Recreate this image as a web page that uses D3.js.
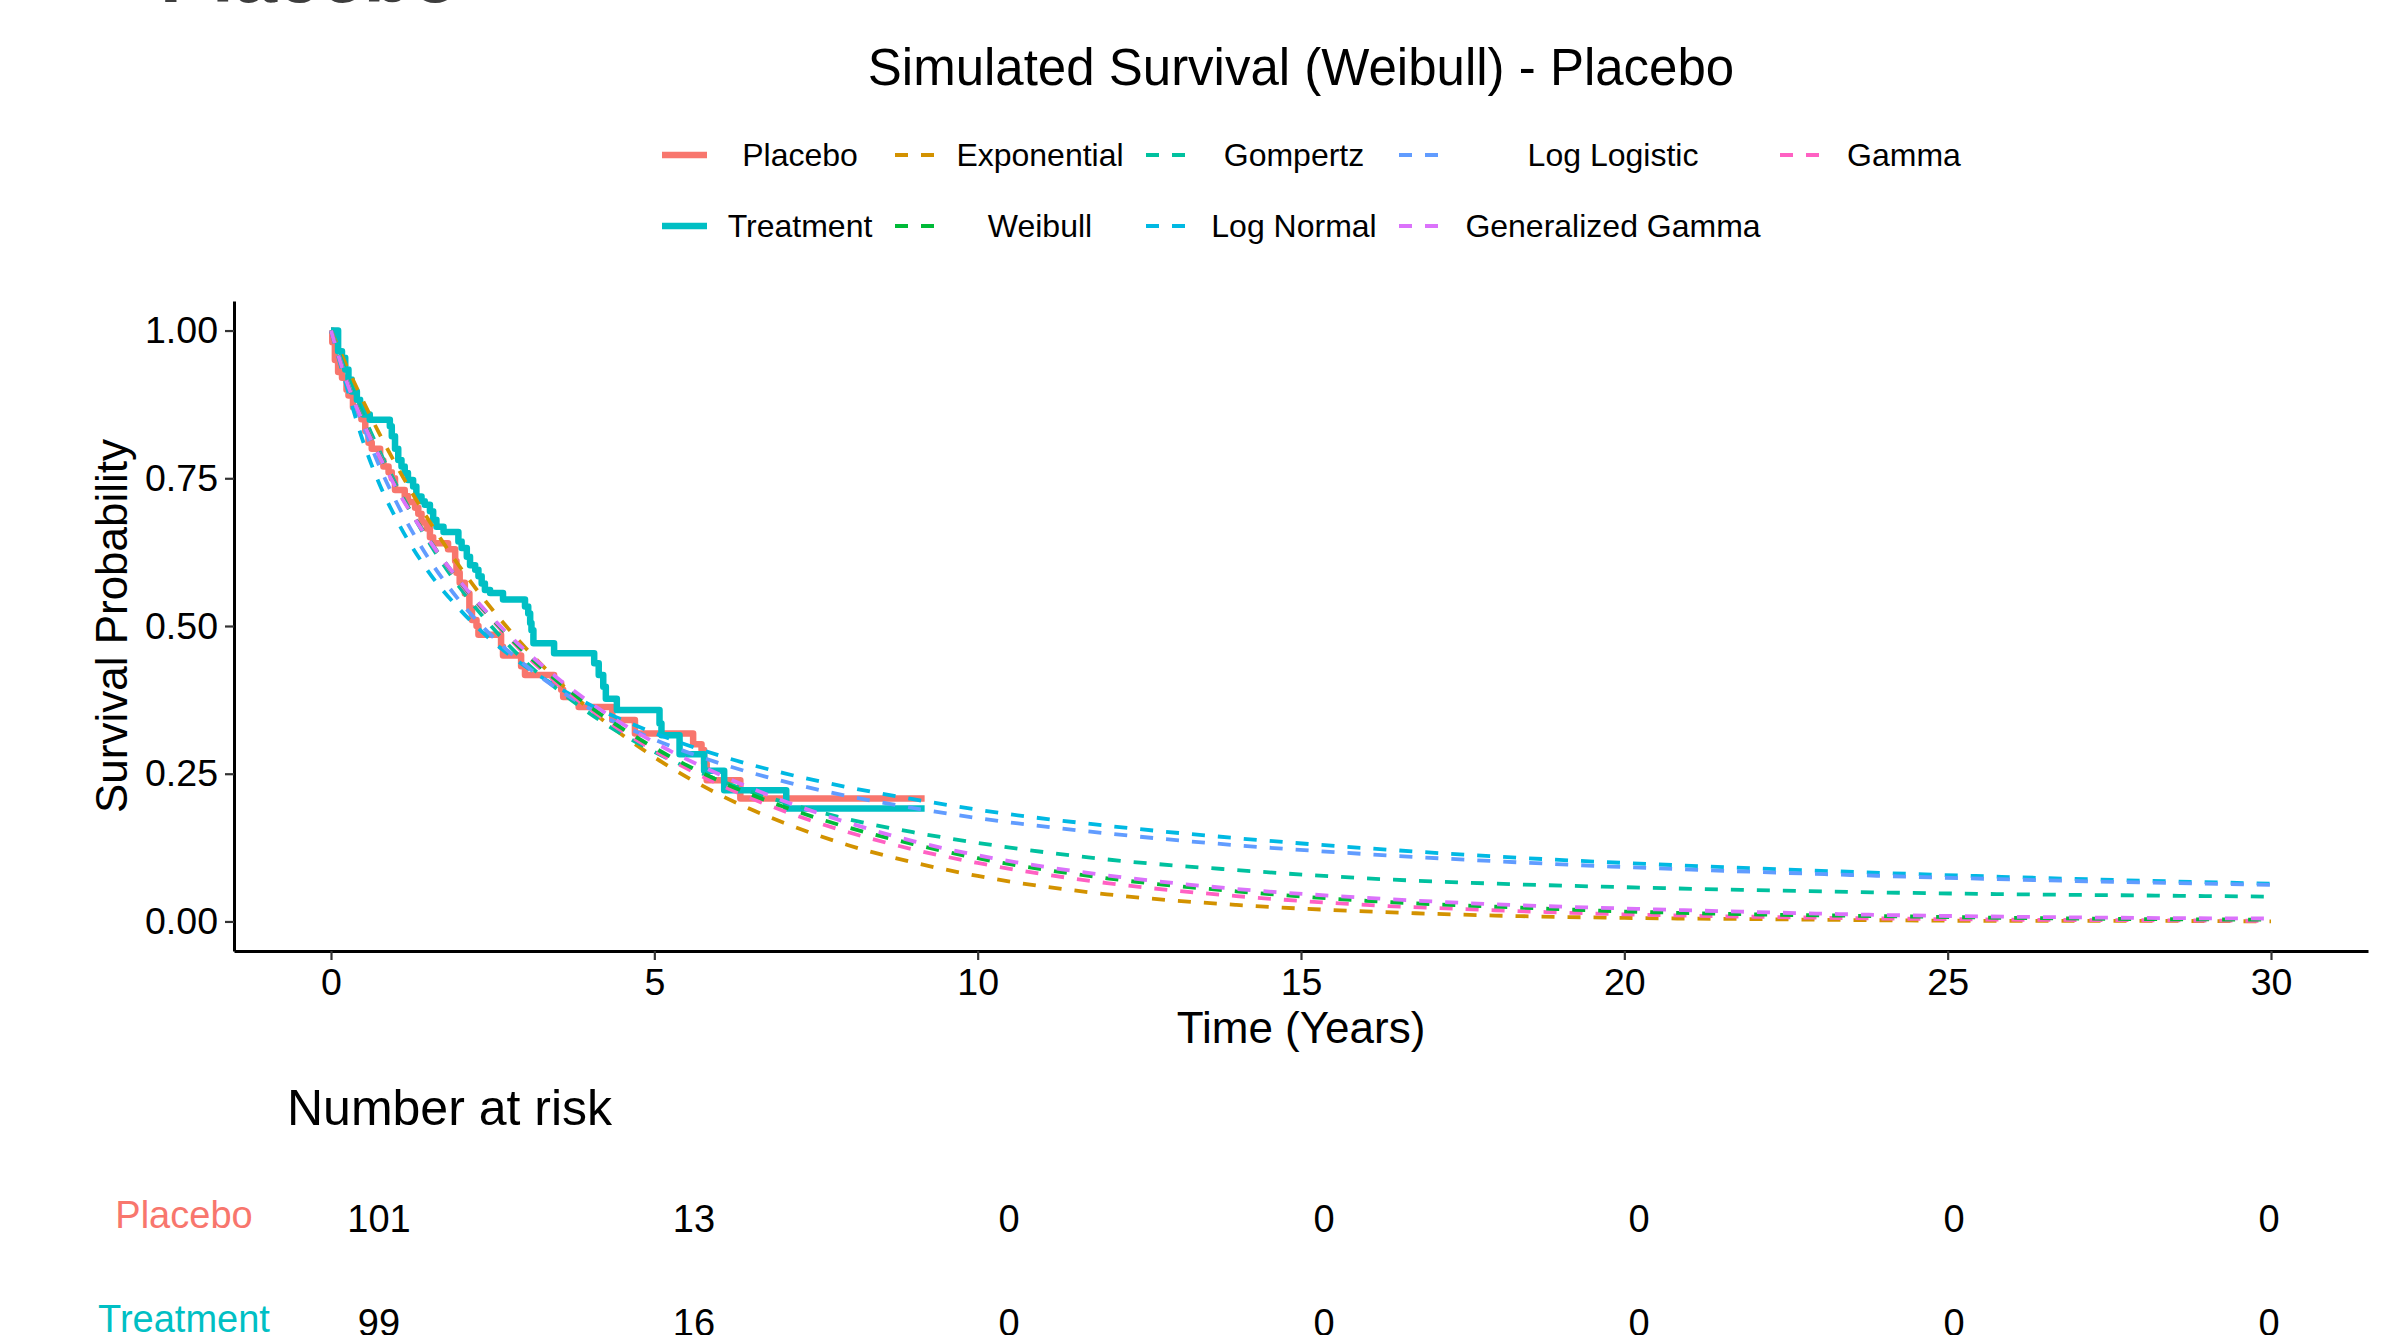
<!DOCTYPE html>
<html>
<head>
<meta charset="utf-8">
<script src="https://cdn.jsdelivr.net/npm/d3@7"></script>
<style>
  body { margin: 0; background: #fff; }
  text { font-family: "Liberation Sans", Arial, Helvetica, sans-serif; }
</style>
</head>
<body>
<svg id="chart"></svg>
<script>
// ---- data ----
const placeboTime = [0, 0.02, 0.06, 0.11, 0.17, 0.24, 0.27, 0.34, 0.40, 0.47, 0.53, 0.58, 0.63, 0.76, 0.81, 0.89, 0.94, 0.99, 1.14, 1.19, 1.30, 1.35, 1.40, 1.48, 1.53, 1.58, 1.81, 1.92, 1.94, 1.99, 2.07, 2.14, 2.18, 2.25, 2.28, 2.63, 2.66, 2.94, 3.00, 3.45, 3.56, 3.59, 3.83, 4.35, 4.70, 5.60, 5.73, 5.77, 5.81, 6.33];
const placeboSurv = [1, 0.98, 0.95, 0.93, 0.92, 0.90, 0.89, 0.87, 0.86, 0.85, 0.83, 0.81, 0.80, 0.78, 0.77, 0.76, 0.75, 0.73, 0.72, 0.71, 0.70, 0.69, 0.675, 0.665, 0.65, 0.64, 0.63, 0.61, 0.59, 0.573, 0.555, 0.53, 0.51, 0.50, 0.485, 0.465, 0.45, 0.432, 0.417, 0.403, 0.392, 0.38, 0.363, 0.341, 0.318, 0.30, 0.29, 0.267, 0.239, 0.208];
const treatmentTime = [0, 0.11, 0.17, 0.22, 0.27, 0.32, 0.40, 0.45, 0.50, 0.60, 0.91, 0.94, 0.99, 1.04, 1.09, 1.14, 1.19, 1.27, 1.32, 1.40, 1.45, 1.53, 1.58, 1.63, 1.74, 1.97, 2.02, 2.10, 2.15, 2.23, 2.28, 2.33, 2.38, 2.46, 2.66, 3.00, 3.05, 3.08, 3.10, 3.13, 3.45, 4.07, 4.14, 4.21, 4.25, 4.42, 5.08, 5.11, 5.39, 5.77, 6.08, 7.04];
const treatmentSurv = [1, 0.965, 0.954, 0.934, 0.917, 0.897, 0.883, 0.869, 0.858, 0.849, 0.838, 0.821, 0.80, 0.781, 0.77, 0.759, 0.747, 0.736, 0.719, 0.711, 0.705, 0.694, 0.68, 0.668, 0.659, 0.643, 0.632, 0.617, 0.603, 0.595, 0.584, 0.572, 0.561, 0.556, 0.545, 0.533, 0.521, 0.505, 0.493, 0.471, 0.454, 0.437, 0.417, 0.397, 0.377, 0.358, 0.335, 0.315, 0.283, 0.255, 0.222, 0.191];
const kmEndTime = 9.18;

const fitTime = [0, 0.25, 0.5, 0.75, 1, 1.5, 2, 2.5, 3, 3.5, 4, 5, 6, 7, 8, 9, 10, 12, 14, 16, 18, 20, 22, 24, 26, 28, 30];
const exponential = [1, 0.938, 0.880, 0.825, 0.774, 0.681, 0.599, 0.527, 0.464, 0.408, 0.359, 0.278, 0.215, 0.167, 0.129, 0.100, 0.077, 0.046, 0.028, 0.017, 0.010, 0.006, 0.004, 0.002, 0.001, 0.001, 0.000];
const weibull = [1, 0.912, 0.846, 0.789, 0.737, 0.649, 0.574, 0.511, 0.455, 0.407, 0.364, 0.294, 0.238, 0.194, 0.159, 0.131, 0.107, 0.073, 0.051, 0.035, 0.025, 0.017, 0.012, 0.009, 0.006, 0.004, 0.003];
const gompertz = [1, 0.925, 0.857, 0.796, 0.741, 0.644, 0.564, 0.497, 0.440, 0.393, 0.352, 0.287, 0.239, 0.202, 0.173, 0.151, 0.133, 0.105, 0.087, 0.073, 0.064, 0.058, 0.053, 0.049, 0.046, 0.044, 0.042];
const logNormal = [1, 0.902, 0.811, 0.740, 0.683, 0.593, 0.527, 0.474, 0.432, 0.397, 0.367, 0.319, 0.281, 0.251, 0.227, 0.207, 0.189, 0.162, 0.141, 0.124, 0.110, 0.099, 0.090, 0.082, 0.075, 0.069, 0.064];
const logLogistic = [1, 0.915, 0.838, 0.770, 0.712, 0.616, 0.541, 0.482, 0.434, 0.394, 0.360, 0.308, 0.268, 0.237, 0.212, 0.192, 0.175, 0.149, 0.129, 0.114, 0.102, 0.092, 0.084, 0.077, 0.071, 0.066, 0.062];
const genGamma = [1, 0.911, 0.844, 0.787, 0.735, 0.648, 0.575, 0.513, 0.459, 0.412, 0.371, 0.303, 0.249, 0.204, 0.167, 0.136, 0.112, 0.078, 0.055, 0.040, 0.029, 0.022, 0.016, 0.011, 0.008, 0.006, 0.005];
const gamma = [1, 0.913, 0.847, 0.790, 0.737, 0.648, 0.572, 0.509, 0.452, 0.403, 0.360, 0.289, 0.232, 0.187, 0.151, 0.122, 0.099, 0.065, 0.043, 0.028, 0.019, 0.012, 0.008, 0.005, 0.003, 0.002, 0.001];

const xTicks = [0, 5, 10, 15, 20, 25, 30];
const yTicks = [0, 0.25, 0.5, 0.75, 1];
const riskTimes = [0, 5, 10, 15, 20, 25, 30];
const riskPlacebo = [101, 13, 0, 0, 0, 0, 0];
const riskTreatment = [99, 16, 0, 0, 0, 0, 0];

// legend order is column by column, two rows
const legendNames = ["Placebo", "Treatment", "Exponential", "Weibull", "Gompertz", "Log Normal", "Log Logistic", "Generalized Gamma", "Gamma"];

const colors = {
  "Placebo": "#F8766D", "Treatment": "#00BFC4", "Exponential": "#D39200", "Weibull": "#00BA38",
  "Gompertz": "#00C19F", "Log Normal": "#00B9E3", "Log Logistic": "#619CFF",
  "Generalized Gamma": "#DB72FB", "Gamma": "#FF61C3"
};

const W = 2397, H = 1335;
const svg = d3.select("#chart").attr("width", W).attr("height", H);
const font = "'Liberation Sans', Arial, sans-serif";

// scales (ggplot style 5% expansion)
const x = d3.scaleLinear().domain([-1.5, 31.5]).range([234, 2368]);
const y = d3.scaleLinear().domain([-0.05, 1.05]).range([951, 301]);

// cut-off heading at the very top
svg.append("text")
  .attr("x", 160).attr("y", 2)
  .style("font-size", "78px").style("font-weight", "bold")
  .attr("fill", "#3d3d3d")
  .text("Placebo");

// title
svg.append("text")
  .attr("x", 1301).attr("y", 85)
  .attr("text-anchor", "middle")
  .style("font-size", "51px")
  .text("Simulated Survival (Weibull) - Placebo");

// legend
const legendCols = [
  { key: 662, mid: 800 }, { key: 895, mid: 1040 }, { key: 1146, mid: 1294 },
  { key: 1399, mid: 1613 }, { key: 1780, mid: 1904 }
];
const legendRows = [155, 226];
legendNames.forEach((name, i) => {
  const col = legendCols[Math.floor(i / 2)], ry = legendRows[i % 2];
  const solid = i < 2;
  svg.append("line")
    .attr("x1", col.key).attr("x2", col.key + 45)
    .attr("y1", ry).attr("y2", ry)
    .attr("stroke", colors[name])
    .attr("stroke-width", solid ? 6.5 : 3.8)
    .attr("stroke-dasharray", solid ? null : "13,13");
  svg.append("text")
    .attr("x", col.mid).attr("y", ry + 11)
    .attr("text-anchor", "middle")
    .style("font-size", "32px")
    .text(name);
});

// axes
const xAxis = svg.append("g")
  .attr("transform", `translate(0,951)`)
  .call(d3.axisBottom(x).tickValues(xTicks).tickSize(9).tickSizeOuter(0).tickPadding(8).tickFormat(d3.format("d")));
xAxis.select(".domain").attr("stroke", "#000").attr("stroke-width", 3);
xAxis.selectAll(".tick line").attr("stroke", "#333").attr("stroke-width", 2.2);
xAxis.selectAll("text").style("font-size", "37.5px").style("font-family", font).attr("fill", "#000");

const yAxis = svg.append("g")
  .attr("transform", `translate(234,0)`)
  .call(d3.axisLeft(y).tickValues(yTicks).tickSize(9).tickSizeOuter(0).tickPadding(7).tickFormat(d3.format(".2f")));
yAxis.select(".domain").attr("stroke", "#000").attr("stroke-width", 3);
yAxis.selectAll(".tick line").attr("stroke", "#333").attr("stroke-width", 2.2);
yAxis.selectAll("text").style("font-size", "37.5px").style("font-family", font).attr("fill", "#000");

// axis titles
svg.append("text")
  .attr("x", 1301).attr("y", 1043)
  .attr("text-anchor", "middle")
  .style("font-size", "44px")
  .text("Time (Years)");

svg.append("text")
  .attr("transform", "translate(127,626) rotate(-90)")
  .attr("text-anchor", "middle")
  .style("font-size", "44px")
  .text("Survival Probability");

// KM step curves
const plot = svg.append("g");
const stepLine = d3.line().x(d => x(d[0])).y(d => y(d[1])).curve(d3.curveStepAfter);
const kmSeries = [
  { name: "Placebo", t: placeboTime, s: placeboSurv },
  { name: "Treatment", t: treatmentTime, s: treatmentSurv }
];
kmSeries.forEach(k => {
  const pts = k.t.map((t, i) => [t, k.s[i]]);
  pts.push([kmEndTime, k.s[k.s.length - 1]]);
  plot.append("path")
    .datum(pts)
    .attr("d", stepLine)
    .attr("fill", "none")
    .attr("stroke", colors[k.name])
    .attr("stroke-width", 6.5)
    .attr("stroke-linejoin", "round");
});

// parametric fits
const fitLine = d3.line().x(d => x(d[0])).y(d => y(d[1])).curve(d3.curveMonotoneX);
const fits = [
  { name: "Exponential", s: exponential },
  { name: "Gompertz", s: gompertz },
  { name: "Log Normal", s: logNormal },
  { name: "Log Logistic", s: logLogistic },
  { name: "Gamma", s: gamma },
  { name: "Weibull", s: weibull },
  { name: "Generalized Gamma", s: genGamma }
];
fits.forEach(f => {
  plot.append("path")
    .datum(fitTime.map((t, i) => [t, f.s[i]]))
    .attr("d", fitLine)
    .attr("fill", "none")
    .attr("stroke", colors[f.name])
    .attr("stroke-width", 3.8)
    .attr("stroke-dasharray", "13,13");
});

// number at risk table
const xr = d3.scaleLinear().domain([-1.5, 31.5]).range([284.5, 2363.5]);
svg.append("text")
  .attr("x", 287).attr("y", 1125)
  .style("font-size", "50px")
  .text("Number at risk");

const riskRows = [
  { name: "Placebo", vals: riskPlacebo, base: 1232 },
  { name: "Treatment", vals: riskTreatment, base: 1336 }
];
riskRows.forEach(r => {
  svg.append("text")
    .attr("x", 184).attr("y", r.base - 4)
    .attr("text-anchor", "middle")
    .attr("fill", colors[r.name])
    .style("font-size", "38px")
    .text(r.name);
  svg.selectAll(null)
    .data(riskTimes.map((t, i) => [t, r.vals[i]]))
    .enter()
    .append("text")
    .attr("x", d => xr(d[0]))
    .attr("y", r.base)
    .attr("text-anchor", "middle")
    .style("font-size", "38px")
    .text(d => d[1]);
});
</script>
</body>
</html>
